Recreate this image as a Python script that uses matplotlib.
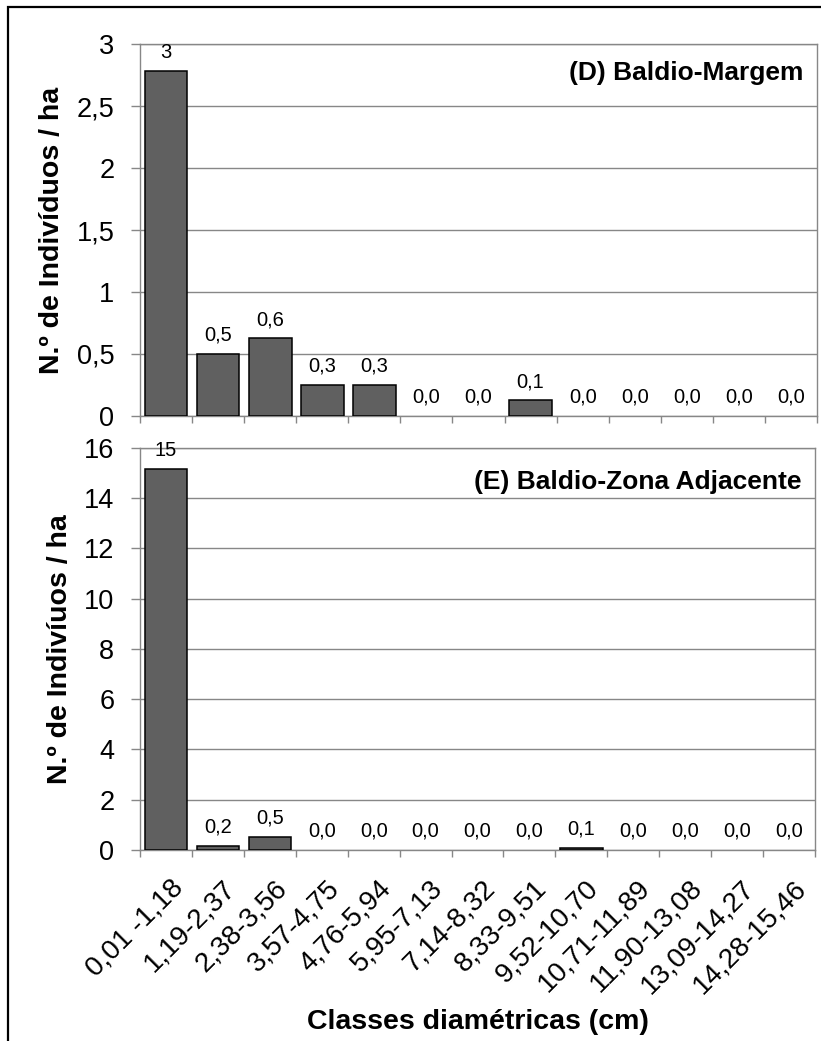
import matplotlib
matplotlib.use("Agg")
import matplotlib.pyplot as plt
from matplotlib.patches import Rectangle
from matplotlib.transforms import ScaledTranslation
from matplotlib.ticker import FixedLocator, FuncFormatter, MultipleLocator

plt.rcParams["font.family"] = ["Liberation Sans", "DejaVu Sans"]

classes = ["0,01 -1,18", "1,19-2,37", "2,38-3,56", "3,57-4,75", "4,76-5,94",
           "5,95-7,13", "7,14-8,32", "8,33-9,51", "9,52-10,70", "10,71-11,89",
           "11,90-13,08", "13,09-14,27", "14,28-15,46"]

# (D) Baldio-Margem
margem = [2.78, 0.50, 0.625, 0.25, 0.25, 0.0, 0.0, 0.125, 0.0, 0.0, 0.0, 0.0, 0.0]
margem_labels = ["3", "0,5", "0,6", "0,3", "0,3", "0,0", "0,0", "0,1", "0,0",
                 "0,0", "0,0", "0,0", "0,0"]

# (E) Baldio-Zona Adjacente
adjacente = [15.15, 0.17, 0.53, 0.0, 0.0, 0.0, 0.0, 0.0, 0.09, 0.0, 0.0, 0.0, 0.0]
adjacente_labels = ["15", "0,2", "0,5", "0,0", "0,0", "0,0", "0,0", "0,0", "0,1",
                    "0,0", "0,0", "0,0", "0,0"]

GRID = "#878787"
BAR = "#606060"


def comma(v, _pos):
    return f"{v:g}".replace(".", ",")


def panel(ax, values, labels, ymax, ystep, title, title_dy, ylabel, show_x):
    x = list(range(len(values)))
    # zero-height bars get no outline, as in Excel
    ax.bar(x, values, width=0.82, color=BAR, edgecolor="black",
           linewidth=[1.1 if v > 0 else 0 for v in values], zorder=3)
    for xi, v, lab in zip(x, values, labels):
        ax.annotate(lab, (xi, v), xytext=(0, 9.5), textcoords="offset points",
                    ha="center", va="baseline", fontsize=14.5, zorder=4)
    ax.set_xlim(-0.5, len(values) - 0.5)
    ax.set_ylim(0, ymax)
    ax.yaxis.set_major_locator(MultipleLocator(ystep))
    ax.yaxis.set_major_formatter(FuncFormatter(comma))
    ax.grid(axis="y", color=GRID, linewidth=1.0, zorder=0)
    for sp in ax.spines.values():
        sp.set_color(GRID)
        sp.set_linewidth(1.0)
    ax.tick_params(axis="y", direction="out", length=6.5, width=1.0,
                   color=GRID, labelsize=19.5, pad=12)
    ax.xaxis.set_minor_locator(FixedLocator([i - 0.5 for i in range(len(values) + 1)]))
    ax.tick_params(axis="x", which="minor", direction="out", length=5,
                   width=1.0, color=GRID)
    ax.set_xticks(x)
    ax.tick_params(axis="x", which="major", length=0, pad=18, labelsize=20)
    if show_x:
        ax.set_xticklabels(classes, rotation=45, ha="right", va="top",
                           rotation_mode="anchor")
        shift = ScaledTranslation(3 / 72, 0, ax.figure.dpi_scale_trans)
        for lbl in ax.get_xticklabels():
            lbl.set_transform(lbl.get_transform() + shift)
    else:
        ax.set_xticklabels([])
    ax.set_ylabel(ylabel, fontsize=20.5, fontweight="bold", labelpad=8)
    ax.annotate(title, (1, 1), xycoords="axes fraction", xytext=(-10, title_dy),
                textcoords="offset points", ha="right", va="center",
                fontsize=19, fontweight="bold")


fig = plt.figure(figsize=(8.21, 10.41), dpi=100)
ax1 = fig.add_axes([0.1705, 0.6004, 0.8246, 0.3573])
ax2 = fig.add_axes([0.1705, 0.1835, 0.8222, 0.3862])

panel(ax1, margem, margem_labels, 3, 0.5, "(D) Baldio-Margem", -21,
      "N.º de Indivíduos / ha", False)
panel(ax2, adjacente, adjacente_labels, 16, 2, "(E) Baldio-Zona Adjacente", -24.5,
      "N.º de Indivíuos / ha", True)
ax2.set_xlabel("Classes diamétricas (cm)", fontsize=20.5, fontweight="bold",
               va="top")
ax2.xaxis.set_label_coords(478 / 821, 32 / 1041, transform=fig.transFigure)

# outer chart border (only the left and top edges are inside the image)
fig.patches.append(Rectangle((8 / 821, -0.01), 1.02, 1 - 7 / 1041 + 0.01,
                             transform=fig.transFigure, fill=False,
                             edgecolor="black", linewidth=1.6))

fig.savefig("out.png", dpi=100)
